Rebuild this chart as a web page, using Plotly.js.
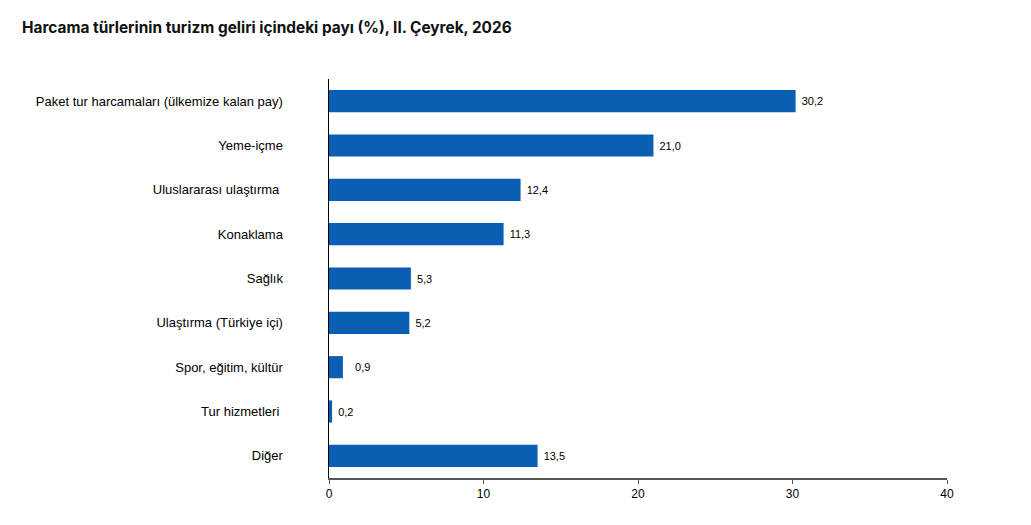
<!DOCTYPE html>
<html>
<head>
<meta charset="utf-8">
<script src="https://cdn.plot.ly/plotly-3.0.1.min.js"></script>
<style>html,body{margin:0;padding:0;background:#fff;}#chart{width:1031px;height:525px;}</style>
</head>
<body>
<div id="chart"></div>
<script>
const categories = [
  "Paket tur harcamaları (ülkemize kalan pay)",
  "Yeme-içme",
  "Uluslararası ulaştırma ",
  "Konaklama",
  "Sağlık",
  "Ulaştırma (Türkiye içi)",
  "Spor, eğitim, kültür",
  "Tur hizmetleri ",
  "Diğer"
];
const shares = [30.2, 21.0, 12.4, 11.3, 5.3, 5.2, 0.9, 0.2, 13.5];
const shareLabels = ["30,2", "21,0", "12,4", "11,3", "5,3", "5,2", "0,9", "0,2", "13,5"];
const labelPads = ["\u00a0", "\u00a0", "\u00a0", "\u00a0", "\u00a0", "\u00a0", "\u00a0\u00a0\u00a0", "\u00a0", "\u00a0"];
const xTicks = [0, 10, 20, 30, 40];

const trace = {
  type: 'bar',
  orientation: 'h',
  y: categories,
  x: shares,
  text: shareLabels.map((t, i) => labelPads[i] + t),
  textposition: 'outside',
  cliponaxis: false,
  textfont: {family: 'Liberation Sans, Arial, sans-serif', size: 11, color: '#000'},
  marker: {color: '#0a5fb4', line: {width: 0}},
  width: 0.5,
  hoverinfo: 'x+y'
};

const layout = {
  width: 1031, height: 525,
  paper_bgcolor: '#fff', plot_bgcolor: '#fff',
  margin: {l: 329, r: 84, t: 79, b: 47},
  title: {
    text: 'Harcama türlerinin turizm geliri içindeki payı (%), II. Çeyrek, 2026',
    x: 0.0213, xanchor: 'left', y: 0.948, yanchor: 'middle',
    font: {family: 'Inter, Roboto, sans-serif', size: 15.4, color: '#111', weight: 'bold'}
  },
  showlegend: false,
  xaxis: {
    range: [0, 40],
    tickvals: xTicks,
    ticktext: xTicks.map(String),
    showgrid: false, zeroline: false,
    showline: true, linecolor: '#555', linewidth: 1.5,
    ticks: 'outside', ticklen: 4, tickcolor: '#555', tickwidth: 1,
    tickfont: {family: 'Liberation Sans, Arial, sans-serif', size: 12, color: '#000'},
    fixedrange: true
  },
  yaxis: {
    autorange: 'reversed',
    showgrid: false, zeroline: false,
    showline: true, linecolor: '#000', linewidth: 1.5,
    ticks: '',
    ticklabelstandoff: 42,
    tickfont: {family: 'Liberation Sans, Arial, sans-serif', size: 13, color: '#000'},
    fixedrange: true
  },
  bargap: 0.5
};

Plotly.newPlot('chart', [trace], layout, {displayModeBar: false, staticPlot: true});
</script>
</body>
</html>
